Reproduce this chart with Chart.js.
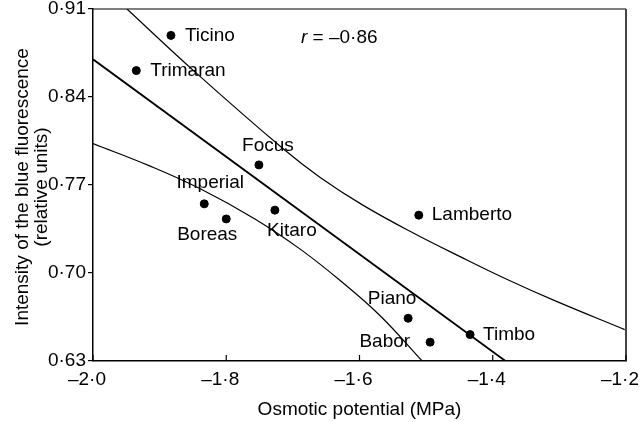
<!DOCTYPE html>
<html>
<head>
<meta charset="utf-8">
<script src="https://cdn.jsdelivr.net/npm/chart.js@4.4.1/dist/chart.umd.min.js"></script>
<style>
  body { margin: 0; background: #fff; }
  #wrap { width: 640px; height: 422px; position: relative; }
</style>
</head>
<body>
<div id="wrap"><canvas id="chart"></canvas></div>
<script>
// cultivars: osmotic potential (MPa) vs blue fluorescence intensity
const cultivars = ['Ticino', 'Trimaran', 'Focus', 'Imperial', 'Boreas', 'Kitaro', 'Lamberto', 'Piano', 'Timbo', 'Babor'];
const osmotic = [-1.883, -1.935, -1.751, -1.833, -1.800, -1.727, -1.511, -1.527, -1.434, -1.494];
const fluorescence = [0.889, 0.861, 0.786, 0.755, 0.743, 0.750, 0.746, 0.664, 0.651, 0.645];

// regression line end points
const fitX = [-2.0, -1.381];
const fitY = [0.870, 0.630];

// confidence curves
const upperX = [-1.949, -1.847, -1.715, -1.659, -1.595, -1.520, -1.449, -1.379, -1.307, -1.202];
const upperY = [0.910, 0.860, 0.799, 0.776, 0.754, 0.732, 0.713, 0.695, 0.678, 0.655];
const lowerX = [-2.0, -1.914, -1.839, -1.757, -1.689, -1.629, -1.569, -1.506];
const lowerY = [0.803, 0.785, 0.767, 0.743, 0.719, 0.694, 0.666, 0.630];

const xTickValues = [-2.0, -1.8, -1.6, -1.4, -1.2];
const xTickLabels = ['\u20132\u00b70', '\u20131\u00b78', '\u20131\u00b76', '\u20131\u00b74', '\u20131\u00b72'];
const yTickValues = [0.63, 0.70, 0.77, 0.84, 0.91];
const yTickLabels = ['0\u00b763', '0\u00b770', '0\u00b777', '0\u00b784', '0\u00b791'];

const xTitle = 'Osmotic potential (MPa)';
const yTitle = ['Intensity of the blue fluorescence', '(relative units)'];
const rValue = ' = \u20130\u00b786';

// where each name sits relative to its dot (pixels)
const labelPlace = {
  Ticino: [14, 0, 'left'], Trimaran: [14, 0, 'left'], Lamberto: [13, 0, 'left'], Timbo: [13, 0, 'left'],
  Focus: [9, -19, 'center'], Imperial: [6, -21, 'center'], Boreas: [-19, 16, 'center'],
  Kitaro: [17, 21, 'center'], Piano: [-16, -19, 'center'], Babor: [-20, 0, 'right']
};

const FONT = '"Liberation Sans", Arial, sans-serif';
const SIZE = 19;

const toPts = (xs, ys) => xs.map((x, i) => ({ x: x, y: ys[i] }));

const decorations = {
  id: 'decorations',
  afterDatasetsDraw(chart) {
    const { ctx, chartArea: a, scales } = chart;
    ctx.save();
    // box top and right
    ctx.strokeStyle = '#000';
    ctx.lineWidth = 1.2;
    ctx.beginPath();
    ctx.moveTo(a.left, a.top);
    ctx.lineTo(a.right, a.top);
    ctx.stroke();
    ctx.strokeStyle = '#444';
    ctx.lineWidth = 2;
    ctx.beginPath();
    ctx.moveTo(a.right, a.top);
    ctx.lineTo(a.right, a.bottom);
    ctx.stroke();
    // inward x ticks
    ctx.strokeStyle = '#000';
    ctx.lineWidth = 1.2;
    xTickValues.forEach(v => {
      const px = scales.x.getPixelForValue(v);
      ctx.beginPath();
      ctx.moveTo(px, a.bottom);
      ctx.lineTo(px, a.bottom - 6);
      ctx.stroke();
    });

    ctx.fillStyle = '#000';
    ctx.font = SIZE + 'px ' + FONT;
    ctx.textBaseline = 'middle';
    cultivars.forEach((name, i) => {
      const p = labelPlace[name];
      ctx.textAlign = p[2];
      ctx.fillText(name, scales.x.getPixelForValue(osmotic[i]) + p[0], scales.y.getPixelForValue(fluorescence[i]) + p[1]);
    });

    // r value
    ctx.textAlign = 'left';
    ctx.font = 'italic ' + SIZE + 'px ' + FONT;
    ctx.fillText('r', 301, 38);
    const w = ctx.measureText('r').width;
    ctx.font = SIZE + 'px ' + FONT;
    ctx.fillText(rValue, 301 + w, 38);

    // axis titles
    ctx.textAlign = 'center';
    ctx.fillText(xTitle, (a.left + a.right) / 2, 410);
    ctx.translate(0, (a.top + a.bottom) / 2 + 2);
    ctx.rotate(-Math.PI / 2);
    ctx.fillText(yTitle[0], 0, 23);
    ctx.fillText(yTitle[1], 0, 42);
    ctx.restore();
  }
};

new Chart(document.getElementById('chart'), {
  type: 'scatter',
  data: {
    datasets: [
      {
        data: toPts(osmotic, fluorescence),
        backgroundColor: '#000',
        borderColor: '#000',
        pointRadius: 4,
        pointHoverRadius: 4
      },
      {
        data: toPts(fitX, fitY),
        showLine: true,
        borderColor: '#000',
        borderWidth: 1.8,
        pointRadius: 0
      },
      {
        data: toPts(upperX, upperY),
        showLine: true,
        borderColor: '#000',
        borderWidth: 1.2,
        pointRadius: 0,
        tension: 0.4
      },
      {
        data: toPts(lowerX, lowerY),
        showLine: true,
        borderColor: '#000',
        borderWidth: 1.2,
        pointRadius: 0,
        tension: 0.4
      }
    ]
  },
  options: {
    responsive: true,
    maintainAspectRatio: false,
    animation: false,
    layout: { padding: { top: 9, right: 14, left: 0, bottom: 0 } },
    plugins: { legend: { display: false }, tooltip: { enabled: false } },
    scales: {
      x: {
        type: 'linear',
        min: -2.0,
        max: -1.2,
        afterBuildTicks: s => { s.ticks = xTickValues.map(v => ({ value: v })); },
        afterFit: s => { s.height = 61; s.paddingLeft = 0; s.paddingRight = 0; },
        grid: { drawOnChartArea: false, drawTicks: false },
        border: { color: '#000', width: 1.5 },
        ticks: {
          color: '#000',
          padding: 7,
          labelOffset: -6,
          maxRotation: 0,
          font: { family: FONT, size: SIZE },
          callback: (v, i) => xTickLabels[i]
        }
      },
      y: {
        min: 0.63,
        max: 0.91,
        afterBuildTicks: s => { s.ticks = yTickValues.map(v => ({ value: v })); },
        afterFit: s => { s.width = 93; s.paddingTop = 0; s.paddingBottom = 0; },
        grid: { drawOnChartArea: false, tickLength: 5, color: '#000', lineWidth: 1.2 },
        border: { color: '#000', width: 1.5 },
        ticks: {
          color: '#000',
          padding: 2,
          font: { family: FONT, size: SIZE },
          callback: (v, i) => yTickLabels[i]
        }
      }
    }
  },
  plugins: [decorations]
});
</script>
</body>
</html>
